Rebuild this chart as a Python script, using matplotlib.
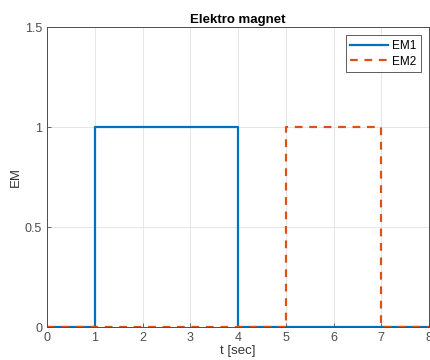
import matplotlib
matplotlib.use("Agg")
import matplotlib.pyplot as plt

t1 = [0, 1, 1, 4, 4, 8]
em1 = [0, 0, 1, 1, 0, 0]
t2 = [0, 5, 5, 7, 7, 8]
em2 = [0, 0, 1, 1, 0, 0]
xticks = [0, 1, 2, 3, 4, 5, 6, 7, 8]
yticks = [0, 0.5, 1, 1.5]
ytick_labels = ["0", "0.5", "1", "1.5"]

plt.rcParams['font.family'] = ['Liberation Sans', 'DejaVu Sans']
fig = plt.figure(figsize=(4.31, 3.6), dpi=100)
ax = fig.add_axes([47/431, 33/360, 382/431, 300/360])
ax.plot(t1, em1, color='#0072BD', lw=1.6, label='EM1')
ax.plot(t2, em2, color='#D95319', lw=1.6, ls=(0, (3.5, 3)), label='EM2')
ax.set_xlim(0, 8)
ax.set_ylim(0, 1.5)
ax.set_xticks(xticks)
ax.set_yticks(yticks)
ax.set_yticklabels(ytick_labels)
ax.grid(True, color='#e6e6e6', lw=0.7)
ax.set_axisbelow(True)
ax.tick_params(direction='in', labelsize=9, colors='#4d4d4d', length=3, width=0.6)
for s in ax.spines.values():
    s.set_color('#4d4d4d')
    s.set_linewidth(0.7)
ax.set_title('Elektro magnet', fontsize=9.5, fontweight='bold', pad=3)
ax.set_xlabel('t [sec]', fontsize=9.5, color='#333333', labelpad=1)
ax.set_ylabel('EM', fontsize=9.5, color='#333333', labelpad=2)
leg = ax.legend(loc='upper right', fontsize=8.5, frameon=True, fancybox=False,
                edgecolor='#333333', handlelength=3.2, borderpad=0.4,
                labelspacing=0.3, handletextpad=0.3, borderaxespad=0.7)
leg.get_frame().set_linewidth(0.7)
fig.savefig('out.png', dpi=100)
